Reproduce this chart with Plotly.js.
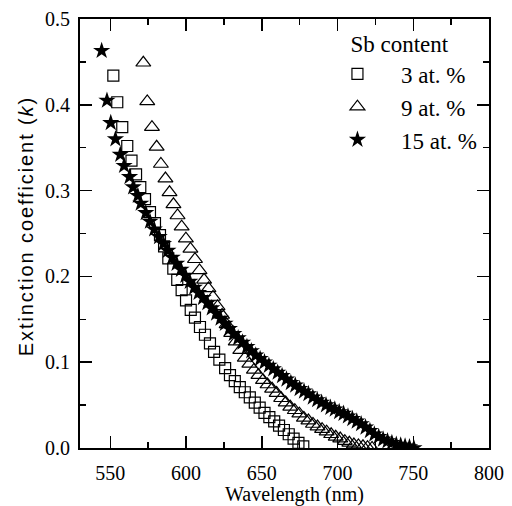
<!DOCTYPE html>
<html>
<head>
<meta charset="utf-8">
<script src="https://cdn.plot.ly/plotly-3.0.1.min.js"></script>
<style>
html,body{margin:0;padding:0;background:#fff;}
#chart{width:512px;height:506px;}
.ytitle{letter-spacing:1.9px;}
</style>
</head>
<body>
<div id="chart"></div>
<script>
// Sb content 3 at.% (open squares)
const wl3 = [552.0, 554.6, 557.9, 561.2, 564.0, 567.0, 569.8, 572.9, 576.2, 579.5, 582.8, 585.5, 588.3, 591.6, 594.2, 597.1, 600.0, 603.1, 605.9, 609.2, 612.5, 615.8, 618.5, 622.0, 625.8, 629.0, 632.2, 635.5, 638.8, 642.1, 645.4, 648.6, 651.8, 655.0, 658.2, 661.4, 664.6, 667.8, 671.0, 674.2, 677.4];
const k3 = [0.434, 0.403, 0.374, 0.352, 0.335, 0.319, 0.304, 0.290, 0.275, 0.262, 0.248, 0.235, 0.221, 0.209, 0.196, 0.184, 0.172, 0.161, 0.152, 0.141, 0.132, 0.122, 0.112, 0.103, 0.093, 0.085, 0.078, 0.071, 0.065, 0.059, 0.053, 0.047, 0.041, 0.036, 0.031, 0.026, 0.021, 0.016, 0.011, 0.006, 0.002];

// Sb content 9 at.% (open triangles)
const wl9 = [571.8, 574.4, 577.5, 580.6, 583.4, 586.4, 589.1, 591.7, 594.4, 597.1, 599.9, 602.9, 605.9, 608.9, 611.9, 614.8, 617.8, 620.8, 623.8, 626.8, 629.8, 632.8, 635.8, 638.8, 641.8, 644.8, 647.8, 650.8, 653.8, 656.8, 659.8, 662.8, 665.8, 668.8, 671.8, 674.8, 677.8, 680.8, 683.8, 686.8, 689.8, 692.8, 695.8, 698.8, 701.8, 704.8, 707.8, 710.8, 713.8, 716.8, 719.8, 722.8];
const k9 = [0.449, 0.404, 0.374, 0.351, 0.331, 0.314, 0.298, 0.284, 0.271, 0.258, 0.244, 0.232, 0.220, 0.207, 0.196, 0.186, 0.176, 0.165, 0.155, 0.144, 0.134, 0.124, 0.114, 0.105, 0.098, 0.091, 0.085, 0.079, 0.074, 0.069, 0.064, 0.058, 0.053, 0.048, 0.044, 0.040, 0.035, 0.032, 0.028, 0.025, 0.022, 0.019, 0.016, 0.013, 0.011, 0.008, 0.006, 0.004, 0.003, 0.002, 0.001, 0.000];

// Sb content 15 at.% (filled stars)
const wl15 = [544.3, 547.8, 550.3, 553.4, 556.6, 559.1, 562.7, 565.1, 568.2, 570.1, 573.4, 576.2, 579.0, 582.2, 585.1, 588.0, 590.9, 593.8, 596.7, 599.6, 602.5, 605.4, 608.3, 611.2, 614.1, 617.0, 619.9, 622.8, 625.7, 628.6, 631.5, 634.4, 637.3, 640.2, 643.1, 646.0, 648.9, 651.8, 654.7, 657.6, 660.5, 663.4, 666.3, 669.2, 672.1, 675.0, 677.9, 680.8, 683.7, 686.6, 689.5, 692.4, 695.3, 698.2, 701.1, 704.0, 706.9, 709.8, 712.7, 715.6, 718.5, 721.4, 724.3, 727.2, 730.1, 733.0, 735.9, 738.8, 741.7, 744.6, 747.5, 750.4];
const k15 = [0.463, 0.405, 0.379, 0.360, 0.342, 0.329, 0.316, 0.304, 0.294, 0.285, 0.274, 0.264, 0.255, 0.246, 0.238, 0.230, 0.222, 0.215, 0.208, 0.201, 0.194, 0.187, 0.181, 0.175, 0.169, 0.163, 0.157, 0.151, 0.145, 0.139, 0.133, 0.128, 0.123, 0.118, 0.113, 0.108, 0.104, 0.100, 0.096, 0.092, 0.088, 0.084, 0.080, 0.076, 0.073, 0.069, 0.066, 0.063, 0.059, 0.056, 0.053, 0.050, 0.047, 0.045, 0.042, 0.040, 0.037, 0.034, 0.031, 0.028, 0.024, 0.020, 0.016, 0.013, 0.010, 0.008, 0.006, 0.004, 0.003, 0.002, 0.001, 0.000];

const seriesNames = ['3 at. %', '9 at. %', '15 at. %'];
const legendTitle = 'Sb content';
const xTitle = 'Wavelength (nm)';
const yTitle = 'Extinction coefficient (<i>k</i>)';

const serif = '"Liberation Serif"';
const sans = '"Liberation Sans"';
const nb = '\u00a0';
const zw = '\u200b';

const traces = [
  {x: wl3, y: k3, name: seriesNames[0], legendgroup: 'a', type: 'scatter', mode: 'markers',
   marker: {symbol: 'square-open', size: 11, color: '#000', line: {width: 1.2, color: '#000'}}},
  {x: wl9, y: k9, name: seriesNames[1], legendgroup: 'b', type: 'scatter', mode: 'markers',
   marker: {symbol: 'triangle-up-open', size: 13, color: '#000', line: {width: 1.2, color: '#000'}}},
  {x: wl15, y: k15, name: seriesNames[2], legendgroup: 'c', type: 'scatter', mode: 'markers',
   marker: {symbol: 'star', size: 13, color: '#000', line: {width: 0}}}
];

const axisCommon = {
  showline: true, linecolor: '#000', linewidth: 2, mirror: 'allticks',
  ticks: 'inside', ticklen: 12, tickwidth: 1.5, tickcolor: '#000',
  showgrid: false, zeroline: false,
  tickfont: {family: serif, size: 20, color: '#000'}
};

const layout = {
  width: 512, height: 506,
  margin: {l: 80, r: 23, t: 19, b: 58},
  paper_bgcolor: '#fff', plot_bgcolor: '#fff',
  font: {family: serif, color: '#000'},
  showlegend: true,
  legend: {
    x: 0.572, y: 0.992, xanchor: 'left', yanchor: 'top',
    bgcolor: 'rgba(0,0,0,0)', borderwidth: 0,
    font: {family: serif, size: 23, color: '#000'},
    title: {text: nb.repeat(6) + legendTitle, font: {family: serif, size: 23, color: '#000'}},
    itemwidth: 77,
    tracegroupgap: 0, traceorder: 'grouped'
  },
  xaxis: Object.assign({}, axisCommon, {
    range: [530, 800], tick0: 550, dtick: 50, ticklabelstandoff: 6,
    minor: {dtick: 25, ticks: 'inside', ticklen: 6, tickwidth: 1.5, tickcolor: '#000'},
    title: {text: zw + nb.repeat(4) + xTitle, font: {family: serif, size: 20, color: '#000'}, standoff: 4}
  }),
  yaxis: Object.assign({}, axisCommon, {
    range: [0, 0.5], tick0: 0, dtick: 0.1, tickformat: '.1f', ticklabelstandoff: 4,
    minor: {dtick: 0.05, ticks: 'inside', ticklen: 6, tickwidth: 1.5, tickcolor: '#000'},
    title: {text: zw + nb.repeat(2) + yTitle, font: {family: sans, size: 20, color: '#000'}, standoff: 6}
  })
};

Plotly.newPlot('chart', traces, layout, {displayModeBar: false, staticPlot: true});
</script>
</body>
</html>
